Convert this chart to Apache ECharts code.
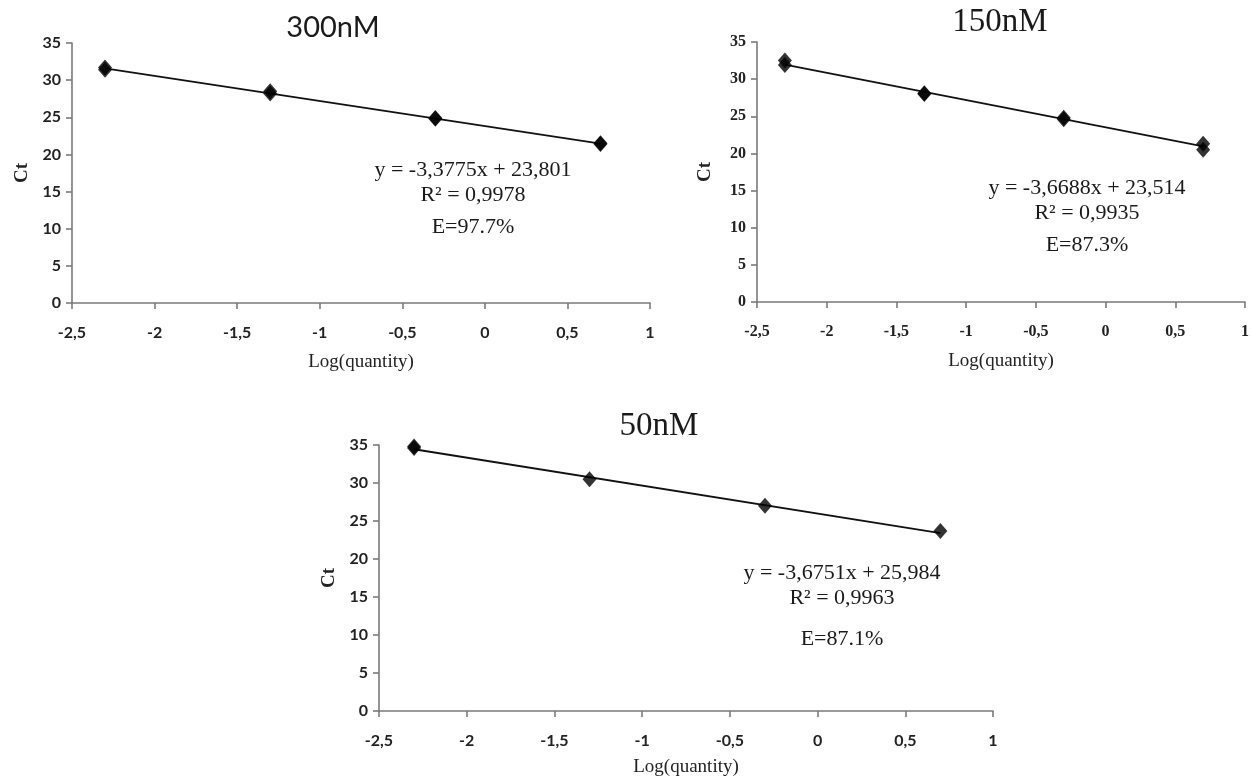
<!DOCTYPE html>
<html>
<head>
<meta charset="utf-8">
<script src="https://cdn.jsdelivr.net/npm/echarts@6/dist/echarts.min.js"></script>
<style>
html,body{margin:0;padding:0;background:#fff;}
#c{width:1252px;height:778px;}
</style>
</head>
<body>
<div id="c"></div>
<script>
// ---- data ----
const titles = ['300nM', '150nM', '50nM'];
const yTicks = [0, 5, 10, 15, 20, 25, 30, 35];
const xTicks = [-2.5, -2, -1.5, -1, -0.5, 0, 0.5, 1];

const pts300 = [[-2.3, 31.7], [-2.3, 31.4], [-1.3, 28.5], [-1.3, 28.2], [-0.3, 24.9], [-0.3, 24.8], [0.7, 21.5], [0.7, 21.4]];
const pts150 = [[-2.3, 32.5], [-2.3, 31.9], [-1.3, 28.1], [-1.3, 28.0], [-0.3, 24.8], [-0.3, 24.6], [0.7, 21.3], [0.7, 20.5]];
const pts50  = [[-2.3, 34.8], [-2.3, 34.6], [-1.3, 30.5], [-0.3, 27.0], [0.7, 23.7]];

const trend300 = [[-2.3, 31.57], [0.7, 21.44]];
const trend150 = [[-2.3, 31.95], [0.7, 20.95]];
const trend50  = [[-2.3, 34.44], [0.7, 23.41]];

const eq300 = ['y = -3,3775x + 23,801', 'R\u00b2 = 0,9978', 'E=97.7%'];
const eq150 = ['y = -3,6688x + 23,514', 'R\u00b2 = 0,9935', 'E=87.3%'];
const eq50  = ['y = -3,6751x + 25,984', 'R\u00b2 = 0,9963', 'E=87.1%'];

// ---- layout ----
const grids = [
  {left: 72, top: 43, width: 578, height: 260},
  {left: 757, top: 42, width: 489, height: 260},
  {left: 379, top: 445, width: 614, height: 267}
];
const tickFonts = [
  {fontFamily: 'Lato', fontWeight: 'bold', fontSize: 16, color: '#222'},
  {fontFamily: 'Liberation Serif', fontWeight: 'bold', fontSize: 16, color: '#222'},
  {fontFamily: 'Lato', fontWeight: 'bold', fontSize: 16, color: '#222'}
];
const fmt = v => String(v).replace('.', ',');
const axisLineStyle = {color: '#7a7a7a', width: 1.6};

const xAxes = grids.map((g, i) => ({
  type: 'value', gridIndex: i, min: -2.5, max: 1, interval: 0.5,
  splitLine: {show: false},
  axisLine: {show: true, onZero: false, lineStyle: axisLineStyle},
  axisTick: {show: true, inside: false, length: 6, lineStyle: axisLineStyle},
  axisLabel: Object.assign({margin: 22, formatter: v => xTicks.includes(v) ? fmt(v) : ''}, tickFonts[i]),
  name: 'Log(quantity)', nameLocation: 'middle', nameGap: i === 2 ? 47 : 50,
  nameTextStyle: {fontFamily: 'Liberation Serif', fontSize: 19, color: '#222'}
}));
const yAxes = grids.map((g, i) => ({
  type: 'value', gridIndex: i, min: 0, max: 35, interval: 5,
  splitLine: {show: false},
  axisLine: {show: true, onZero: false, lineStyle: axisLineStyle},
  axisTick: {show: true, inside: false, length: 6, lineStyle: axisLineStyle},
  axisLabel: Object.assign({margin: 11, formatter: v => yTicks.includes(v) ? fmt(v) : ''}, tickFonts[i]),
  name: 'Ct', nameLocation: 'middle', nameRotate: 90, nameGap: i === 1 ? 42 : 40,
  nameTextStyle: {fontFamily: 'Liberation Serif', fontWeight: 'bold', fontSize: 19, color: '#222'}
}));

const ptsList = [pts300, pts150, pts50];
const trendList = [trend300, trend150, trend50];
const series = [];
ptsList.forEach((p, i) => {
  series.push({
    type: 'line', xAxisIndex: i, yAxisIndex: i, data: trendList[i],
    symbol: 'none', lineStyle: {color: '#111', width: 1.8}, silent: true, z: 2
  });
  series.push({
    type: 'scatter', xAxisIndex: i, yAxisIndex: i, data: p,
    symbol: 'diamond', symbolSize: [14, 16], itemStyle: {color: '#000'}, z: 3
  });
});

function txt(t, x, y, font) {
  return {type: 'text', x: x, y: y, silent: true,
    style: {text: t, font: font, fill: '#1a1a1a', align: 'center', verticalAlign: 'middle'}};
}
const serif = '22px "Liberation Serif"';
const eqPos = [
  {x: 473, ys: [170, 195, 227]},
  {x: 1087, ys: [188, 213, 245]},
  {x: 842, ys: [573, 598, 639]}
];
const eqs = [eq300, eq150, eq50];
const graphics = [
  txt(titles[0], 333, 28, '29px Lato'),
  txt(titles[1], 1000, 22, '33px "Liberation Serif"'),
  txt(titles[2], 659, 426, '33px "Liberation Serif"')
];
eqs.forEach((e, i) => {
  e.forEach((line, j) => graphics.push(txt(line, eqPos[i].x, eqPos[i].ys[j], serif)));
});

const chart = echarts.init(document.getElementById('c'));
chart.setOption({
  animation: false,
  backgroundColor: '#fff',
  grid: grids,
  xAxis: xAxes,
  yAxis: yAxes,
  series: series,
  graphic: graphics
});
</script>
</body>
</html>
